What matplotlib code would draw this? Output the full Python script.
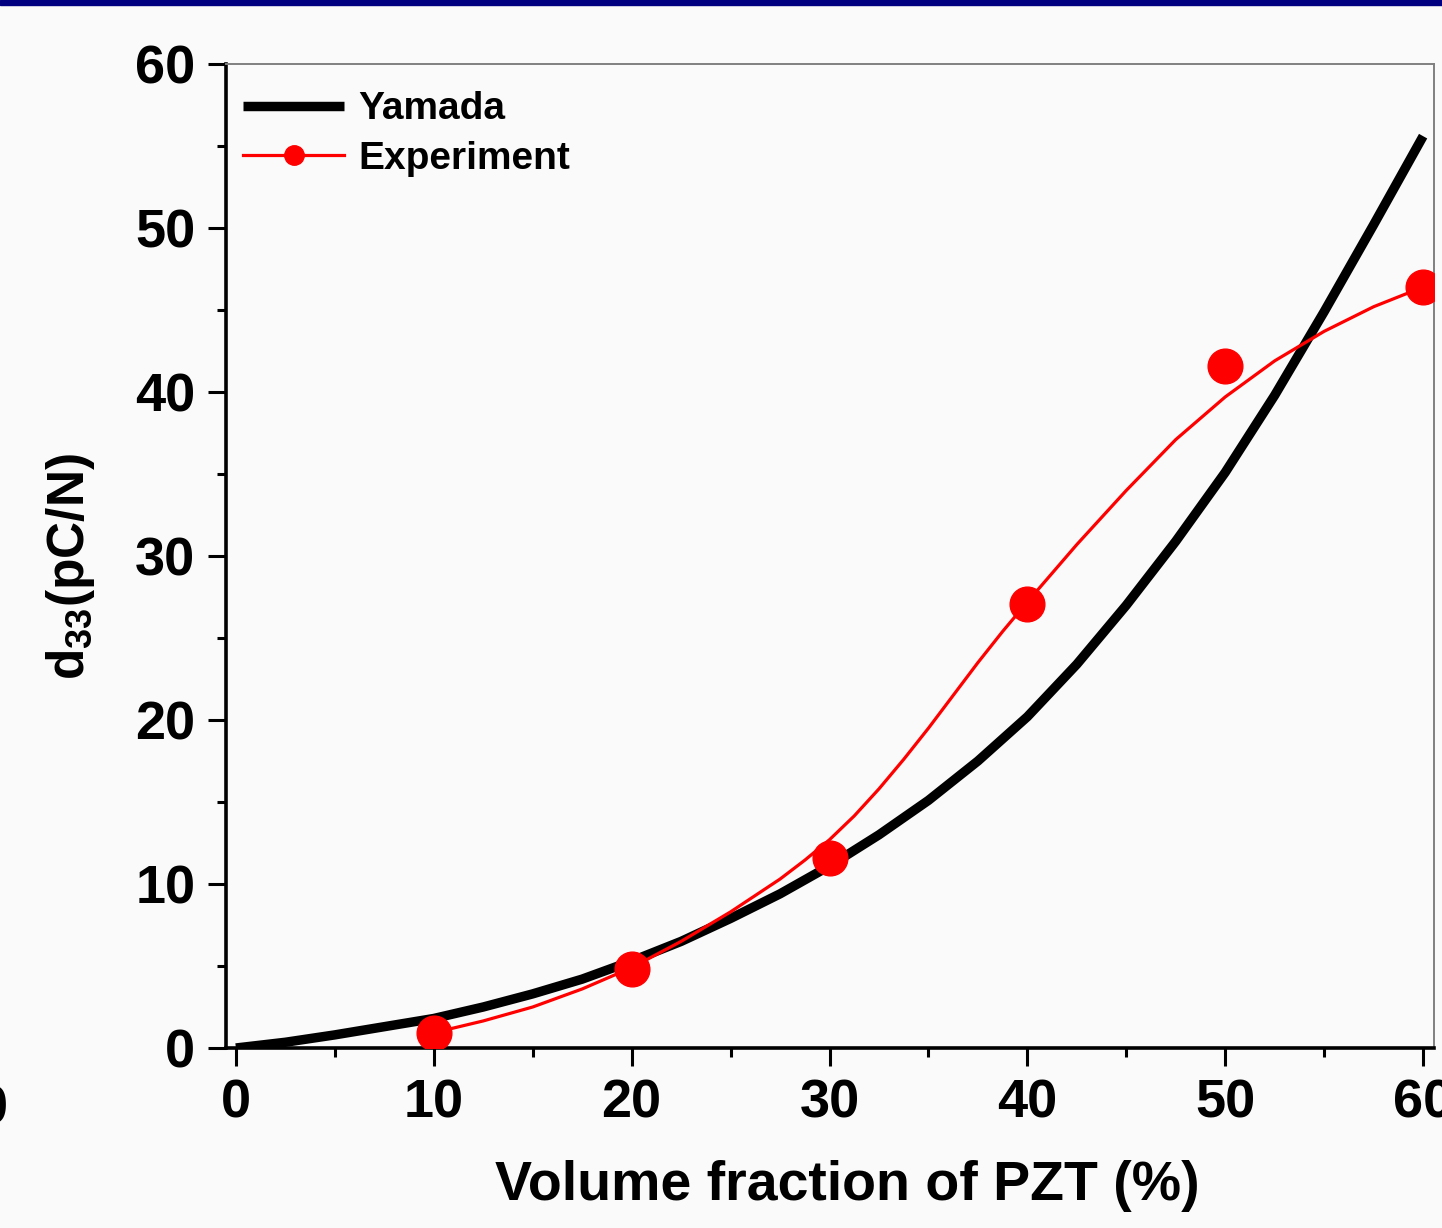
import numpy as np
import matplotlib
matplotlib.use("Agg")
import matplotlib.pyplot as plt
from matplotlib.patches import Rectangle

plt.rcParams["font.family"] = ["Liberation Sans", "DejaVu Sans"]
plt.rcParams["font.weight"] = "bold"
plt.rcParams["mathtext.fontset"] = "custom"
plt.rcParams["mathtext.rm"] = "Liberation Sans"
plt.rcParams["mathtext.bf"] = "Liberation Sans:bold"

# Yamada model curve
yamada_x = [0, 2.5, 5, 7.5, 10, 12.5, 15, 17.5, 20, 22.5, 25, 27.5, 30,
            32.5, 35, 37.5, 40, 42.5, 45, 47.5, 50, 52.5, 55, 57.5, 60]
yamada_y = [0, 0.35, 0.8, 1.3, 1.8, 2.5, 3.3, 4.2, 5.3, 6.5, 7.9, 9.4, 11.1,
            13.0, 15.1, 17.5, 20.2, 23.4, 27.0, 30.9, 35.1, 39.8, 44.9, 50.2, 55.6]

# experiment points
exp_x = [10, 20, 30, 40, 50, 60]
exp_y = [0.9, 4.8, 11.6, 27.1, 41.6, 46.4]

# smoothed line drawn through the experiment
fit_x = [10, 12.5, 15, 17.5, 20, 22.5, 25, 27.5, 28.75, 30, 31.25, 32.5, 33.75,
         35, 36.25, 37.5, 38.75, 40, 42.5, 45, 47.5, 50, 52.5, 55, 57.5, 60]
fit_y = [0.93, 1.65, 2.5, 3.6, 4.9, 6.5, 8.3, 10.3, 11.45, 12.7, 14.15, 15.8, 17.6,
         19.5, 21.5, 23.5, 25.4, 27.2, 30.7, 34.0, 37.1, 39.7, 41.9, 43.7, 45.2, 46.4]

x_ticks = [0, 10, 20, 30, 40, 50, 60]
y_ticks = [0, 10, 20, 30, 40, 50, 60]

W, H = 1442, 1228
bg = "#fafafa"
fig = plt.figure(figsize=(W / 100, H / 100), dpi=100, facecolor=bg)
ax = fig.add_axes([226 / W, 1 - 1048 / H, (1434 - 226) / W, (1048 - 64) / H])
ax.set_facecolor(bg)

# navy band on top of the slide
fig.patches.append(Rectangle((0, 1 - 5 / H), 1, 5 / H, transform=fig.transFigure,
                             color="#000080", zorder=5))

ax.plot(yamada_x, yamada_y, color="black", lw=6.8, solid_capstyle="butt",
        solid_joinstyle="round", label="Yamada", zorder=2)
ax.plot(fit_x, fit_y, color="red", lw=2.3, solid_joinstyle="round", zorder=3)
ax.plot(exp_x, exp_y, linestyle="none", marker="o", ms=25, color="red", zorder=4)
# legend proxy for experiment
ax.plot([], [], color="red", lw=2.3, marker="o", ms=14, label="Experiment")

ax.set_xlim(-0.5, 60.55)
ax.set_ylim(0, 60)
ax.set_xticks(x_ticks)
ax.set_yticks(y_ticks)
ax.set_xticks(np.arange(5, 60, 10), minor=True)
ax.set_yticks(np.arange(5, 60, 10), minor=True)
ax.tick_params(which="major", direction="out", length=13, width=2.2,
               labelsize=39, pad=9)
ax.tick_params(which="minor", direction="out", length=6.5, width=2.2)

for s in ["left", "bottom"]:
    ax.spines[s].set_linewidth(2.6)
    ax.spines[s].set_color("black")
for s in ["top", "right"]:
    ax.spines[s].set_linewidth(1.4)
    ax.spines[s].set_color("#808080")

for lab in ax.get_xticklabels() + ax.get_yticklabels():
    lab.set_fontweight("bold")

ax.set_xlabel("Volume fraction of PZT (%)", fontsize=40, fontweight="bold")
ax.xaxis.set_label_coords((847 - 226) / 1208, -(1212 - 1048) / 984, transform=ax.transAxes)
ax.xaxis.label.set_va("bottom")
ax.set_ylabel(r"d$_{\mathregular{33}}$(pC/N)", fontsize=37, fontweight="bold")
ax.yaxis.set_label_coords(-(226 - 44) / 1208, (1048 - 567) / 984, transform=ax.transAxes)
ax.yaxis.label.set_va("top")

leg = ax.legend(loc="upper left", bbox_to_anchor=(-10 / 1208, 1), frameon=False,
                fontsize=28, handlelength=2.6, handletextpad=0.35,
                labelspacing=0.35, borderaxespad=0.3, borderpad=0.4)
for t in leg.get_texts():
    t.set_fontweight("bold")

# stray digit cut off at the left edge of the slide
fig.text(8 / W, 1 - 1123 / H, "0", fontsize=39, fontweight="bold",
         ha="right", va="baseline")

fig.savefig("out.png", dpi=100, facecolor=bg)
